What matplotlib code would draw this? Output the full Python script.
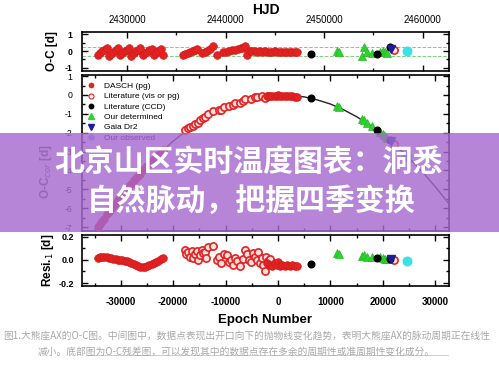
import matplotlib.pyplot as plt
from matplotlib.lines import Line2D
from matplotlib.patches import Rectangle
from matplotlib.ticker import MultipleLocator, FormatStrFormatter

plt.rcParams['font.family'] = ['Liberation Sans', 'DejaVu Sans']
plt.rcParams['axes.unicode_minus'] = False

# linear ephemeris for the HJD axis of the top panel
T0 = 2445310
PERIOD = 0.532
EPOCH_LIM = (-37400, 32630)

# DASCH (pg), first block
dasch1_epoch = [-34340, -33960, -33580, -33200, -32630, -32250, -31860, -31480, -30910, -30530,
                -30150, -29760, -29190, -28810, -28430, -28050, -27480, -27090, -26710, -26330,
                -25760, -25380, -24990, -24610, -24040, -23660, -23280, -22900, -22320, -21940]
dasch1_oc = [-0.26, -0.14, -0.02, 0.08, 0.17, -0.27, -0.15, -0.03, 0.07, 0.18,
             -0.26, -0.13, -0.01, 0.09, 0.17, -0.27, -0.14, -0.02, 0.08, 0.16,
             -0.25, -0.13, -0.03, 0.07, 0.15, -0.24, -0.12, 0.0, 0.1, -0.26]
dasch1_cor = [-7.00, -6.85, -6.70, -6.55, -6.33, -6.19, -6.04, -5.90, -5.70, -5.56,
              -5.43, -5.29, -5.10, -4.97, -4.84, -4.71, -4.53, -4.41, -4.29, -4.17,
              -4.00, -3.88, -3.77, -3.66, -3.49, -3.39, -3.28, -3.18, -3.03, -2.93]
dasch1_res = [0.021, 0.024, 0.026, 0.026, 0.024, 0.02, 0.015, 0.01, 0.006, 0.004,
              0.001, -0.003, -0.006, -0.01, -0.016, -0.025, -0.036, -0.045, -0.052, -0.057,
              -0.06, -0.058, -0.054, -0.047, -0.037, -0.027, -0.017, -0.007, 0.008, 0.017]

# second block as seen in the top panel
top_red_epoch = [-18130, -17740, -17170, -16790, -16220, -15840, -15450, -14500, -13930, -13550,
                 -12970, -12400, -11640, -10490, -9920, -9350, -8780, -8200, -7630, -7060,
                 -6680, -6300, -5910, -5340, -4960, -4390, -4010, -3430, -3050, -2480,
                 -2100, -1530, -1140, -570, -190, 380, 760, 1340, 1720, 2290,
                 2670, 3240, 3630]
top_red_oc = [-0.22, -0.16, -0.1, -0.04, 0.03, 0.09, 0.14, -0.12, -0.04, 0.03,
              0.1, 0.3, -0.22, -0.08, -0.04, 0.0, 0.04, 0.08, 0.12, 0.16,
              0.2, 0.28, -0.22, 0.0, -0.02, 0.01, -0.03, -0.01, -0.04, -0.02,
              -0.05, -0.03, -0.04, -0.02, -0.05, -0.04, -0.06, -0.03, -0.05, -0.04,
              -0.06, -0.05, -0.05]

# Literature (vis or pg)
lit_epoch = [-17740, -17550, -17170, -16790, -16410, -16220, -15840, -15450, -15260, -14880,
             -14500, -14310, -13930, -13740, -13360, -12400, -11640, -11260, -10880, -10300,
             -9730, -9350, -8970, -8590, -8200, -7820, -7250, -6680, -6300, -5910,
             -5530, -5150, -4770, -4390, -4010, -3820, -3430, -3050, -2860, -2480,
             -2290, -1910, -1530]
lit_res = [0.09, 0.05, 0.07, 0.03, 0.08, 0.02, 0.05, 0.08, 0.0, 0.04,
           0.09, 0.06, 0.07, 0.02, 0.11, 0.12, 0.0, 0.03, -0.03, 0.05,
           0.04, -0.02, 0.0, -0.04, 0.02, -0.01, -0.05, 0.01, 0.09, 0.05,
           0.0, -0.02, 0.06, 0.03, 0.0, 0.07, -0.03, 0.02, -0.04, -0.1,
           0.03, -0.01, 0.01]
lit_cor_epoch = [-17740, -17170, -16790, -16220, -15840, -15260, -14880, -14310, -13930, -13360,
                 -12400, -11260, -10880, -10300, -9350, -8590, -8200, -7250, -6680, -6300,
                 -5150, -4390, -4010, -3050, -2480, -1910]
lit_cor = [-1.85, -1.76, -1.72, -1.62, -1.52, -1.46, -1.35, -1.23, -1.16, -1.02,
           -0.86, -0.79, -0.80, -0.64, -0.60, -0.54, -0.44, -0.41, -0.30, -0.19,
           -0.22, -0.12, -0.13, -0.06, -0.16, -0.05]

# DASCH (pg), second block
dasch2_epoch = [-2100, -1530, -1140, -570, -190, 0, 380, 760, 1340, 1720, 2290, 2670, 3240, 3630]
dasch2_res = [-0.03, -0.04, -0.05, -0.03, -0.04, -0.02, -0.05, -0.04, -0.05, -0.04,
              -0.05, -0.04, -0.05, -0.05]
dasch2_cor = [-0.08, -0.07, -0.07, -0.04, -0.045, -0.02, -0.05, -0.04, -0.05, -0.045,
              -0.06, -0.06, -0.085, -0.10]

# Literature (CCD)
ccd_epoch = [6296, 18890, 21370]
ccd_oc = [-0.2, -0.18, 0.22]
ccd_cor = [-0.17, -1.87, -2.41]
ccd_res = [-0.035, 0.02, 0.01]

# Our determined
det_epoch = [11260, 11640, 16030, 16410, 16980, 17940, 19460, 20030, 20420, 20800]
det_oc = [0.0, -0.04, -0.27, 0.25, -0.06, -0.1, -0.04, 0.0, -0.06, -0.12]
det_cor = [-0.57, -0.62, -1.29, -1.35, -1.46, -1.65, -1.97, -2.09, -2.19, -2.28]
det_res = [0.058, 0.05, 0.035, 0.04, 0.03, 0.03, 0.025, 0.02, 0.012, 0.006]

# Gaia Dr2 and one late literature point next to it
gaia_epoch = [21560]
gaia_oc = [0.15]
gaia_cor = [-2.46]
gaia_res = [0.01]
lit_late_epoch = [22130]
lit_late_oc = [0.08]
lit_late_cor = [-2.59]
lit_late_res = [0.0]

# Our observed
obs_epoch = [24610]
obs_oc = [-0.02]
obs_cor = [-3.23]
obs_res = [-0.01]

# quadratic fit drawn in the middle panel
fit_epoch = [-37500, -35000, -32500, -30000, -27500, -25000, -22500, -20000, -17500, -15000,
             -12500, -10000, -7500, -5000, -2500, 0, 2500, 5000, 7500, 10000,
             12500, 15000, 17500, 20000, 22500, 25000, 27500, 30000, 32500, 35000]
fit_cor = [-8.31, -7.26, -6.28, -5.37, -4.54, -3.77, -3.07, -2.45, -1.89, -1.41,
           -1.00, -0.66, -0.39, -0.19, -0.06, -0.003, -0.02, -0.10, -0.26, -0.48,
           -0.78, -1.15, -1.59, -2.10, -2.68, -3.34, -4.06, -4.86, -5.72, -6.66]

legend_labels = ['DASCH (pg)', 'Literature (vis or pg)', 'Literature (CCD)',
                 'Our determined', 'Gaia Dr2', 'Our observed']

RED = '#e32222'
RED_EDGE = '#d01a1a'
PINK = '#fbe0e0'
GREEN = '#2fd22f'
BLUE = '#1c1c9c'
CYAN = '#3ee0e8'
MS = 5.6


def hjd(epochs):
    return [T0 + PERIOD * e for e in epochs]


def style(ax, bold=True):
    ax.tick_params(which='both', direction='in', top=True, right=True, width=1, labelsize=7)
    ax.tick_params(which='major', length=4)
    ax.tick_params(which='minor', length=2)
    for s in ax.spines.values():
        s.set_linewidth(1.2)
    if bold:
        for lab in ax.get_xticklabels() + ax.get_yticklabels():
            lab.set_fontweight('bold')


def draw(ax, xf, series):
    # series: (epochs, values, kind)
    for ep, val, kind in series:
        x = xf(ep)
        if kind == 'dasch':
            ax.plot(x, val, 'o', color=RED, mec=RED_EDGE, mew=0.4, ms=MS, zorder=3)
        elif kind == 'lit':
            ax.plot(x, val, 'o', mfc=PINK, mec=RED, mew=1.2, ms=MS - 0.4, zorder=3)
        elif kind == 'ccd':
            ax.plot(x, val, 'o', color='black', ms=MS - 0.8, zorder=5)
        elif kind == 'det':
            ax.plot(x, val, '^', color=GREEN, mec='#22bb22', mew=0.5, ms=MS + 0.8, zorder=4)
        elif kind == 'gaia':
            ax.plot(x, val, 'v', color=BLUE, ms=MS, zorder=5)
        elif kind == 'obs':
            ax.plot(x, val, 'o', color=CYAN, ms=MS + 0.6, zorder=4)


fig = plt.figure(figsize=(4.99, 3.67), dpi=100)
ax1 = fig.add_axes([0.1643, 0.8065, 0.7355, 0.1063])
ax2 = fig.add_axes([0.1643, 0.3706, 0.7355, 0.4251])
ax3 = fig.add_axes([0.1643, 0.2207, 0.7355, 0.1390])

# top panel: O-C against HJD
ax1.axhline(0.27, color='#7fcf7f', ls='--', lw=0.7, zorder=1)
ax1.axhline(-0.27, color='#7fcf7f', ls='--', lw=0.7, zorder=1)
draw(ax1, hjd, [(dasch1_epoch, dasch1_oc, 'dasch'), (top_red_epoch, top_red_oc, 'dasch'),
                (det_epoch, det_oc, 'det'), (ccd_epoch, ccd_oc, 'ccd'),
                (gaia_epoch, gaia_oc, 'gaia'), (lit_late_epoch, lit_late_oc, 'lit'),
                (obs_epoch, obs_oc, 'obs')])
ax1.set_xlim(T0 + PERIOD * EPOCH_LIM[0], T0 + PERIOD * EPOCH_LIM[1])
ax1.set_ylim(-1.2, 1.14)
ax1.xaxis.set_major_locator(MultipleLocator(10000))
ax1.xaxis.set_minor_locator(MultipleLocator(5000))
ax1.xaxis.set_major_formatter(FormatStrFormatter('%d'))
ax1.yaxis.set_major_locator(MultipleLocator(1))
ax1.yaxis.set_minor_locator(MultipleLocator(0.5))
ax1.xaxis.set_label_position('top')
ax1.set_xlabel('HJD', fontsize=10, fontweight='bold', labelpad=1)
ax1.set_ylabel('O-C [d]', fontsize=8.5, fontweight='bold')
ax1.yaxis.set_label_coords(-0.064, 0.5)
style(ax1)
ax1.tick_params(axis='x', labeltop=True, labelbottom=False, pad=5)
ax1.tick_params(axis='y', pad=7, labelsize=6.3)

# middle panel: corrected O-C with the parabola
same = lambda e: e
ax2.plot(fit_epoch, fit_cor, color='#222222', lw=1.0, zorder=2)
draw(ax2, same, [(dasch1_epoch, dasch1_cor, 'dasch'), (lit_cor_epoch, lit_cor, 'lit'),
                 (dasch2_epoch, dasch2_cor, 'dasch'), (det_epoch, det_cor, 'det'),
                 (ccd_epoch, ccd_cor, 'ccd'), (gaia_epoch, gaia_cor, 'gaia'),
                 (lit_late_epoch, lit_late_cor, 'lit'), (obs_epoch, obs_cor, 'obs')])
ax2.set_xlim(*EPOCH_LIM)
ax2.set_ylim(-7.21, 1.06)
ax2.xaxis.set_major_locator(MultipleLocator(10000))
ax2.xaxis.set_minor_locator(MultipleLocator(5000))
ax2.yaxis.set_major_locator(MultipleLocator(1))
ax2.yaxis.set_minor_locator(MultipleLocator(0.5))
ax2.set_ylabel('O-C$_{cor}$ [d]', fontsize=8.5, fontweight='bold', color='#555555')
ax2.yaxis.set_label_coords(-0.075, 0.38)
style(ax2, bold=False)
ax2.tick_params(axis='x', labelbottom=False)
ax2.tick_params(axis='y', pad=7, labelsize=6.3)

handles = [
    Line2D([], [], ls='', marker='o', color=RED, mec=RED_EDGE, mew=0.5, ms=3.6),
    Line2D([], [], ls='', marker='o', mfc='white', mec=RED, mew=0.8, ms=3.6),
    Line2D([], [], ls='', marker='o', color='black', ms=3.2),
    Line2D([], [], ls='', marker='^', color=GREEN, ms=3.8),
    Line2D([], [], ls='', marker='v', color=BLUE, ms=3.8),
    Line2D([], [], ls='', marker='o', color='#7f9fff', ms=3.6),
]
ax2.legend(handles, legend_labels, loc='upper left', bbox_to_anchor=(0.0, 0.985),
           frameon=False, fontsize=6, handlelength=1.0, handletextpad=1.0,
           labelspacing=0.3, borderaxespad=0.2)

# bottom panel: residuals
draw(ax3, same, [(dasch1_epoch, dasch1_res, 'dasch'), (lit_epoch, lit_res, 'lit'),
                 (dasch2_epoch, dasch2_res, 'dasch'), (det_epoch, det_res, 'det'),
                 (ccd_epoch, ccd_res, 'ccd'), (gaia_epoch, gaia_res, 'gaia'),
                 (lit_late_epoch, lit_late_res, 'lit'), (obs_epoch, obs_res, 'obs')])
ax3.set_xlim(*EPOCH_LIM)
ax3.set_ylim(-0.226, 0.217)
ax3.xaxis.set_major_locator(MultipleLocator(10000))
ax3.xaxis.set_minor_locator(MultipleLocator(5000))
ax3.yaxis.set_major_locator(MultipleLocator(0.2))
ax3.yaxis.set_minor_locator(MultipleLocator(0.1))
ax3.yaxis.set_major_formatter(FormatStrFormatter('%.1f'))
ax3.set_xlabel('Epoch Number', fontsize=9.5, fontweight='bold', labelpad=5)
ax3.set_ylabel('Resi.$_1$ [d]', fontsize=8.5, fontweight='bold')
ax3.yaxis.set_label_coords(-0.07, 0.5)
style(ax3)
ax3.tick_params(axis='x', pad=8)
ax3.tick_params(axis='y', pad=6, labelsize=6.5)

# purple title banner laid over the figure
fig.add_artist(Rectangle((0, 0.368), 1, 0.27, transform=fig.transFigure,
                         facecolor='#a66ad0', edgecolor='none', alpha=0.82, zorder=10))
cjk = ['Noto Sans CJK SC', 'DejaVu Sans']
fig.text(0.499, 0.5586, '北京山区实时温度图表：洞悉', ha='center', va='center',
         fontsize=21.5, fontweight='bold', color='white', family=cjk, zorder=11)
fig.text(0.504, 0.452, '自然脉动，把握四季变换', ha='center', va='center',
         fontsize=21.5, fontweight='bold', color='white', family=cjk, zorder=11)

# caption
fig.text(0.495, 0.0845, '图1.大熊座AX的O-C图。中间图中，数据点表现出开口向下的抛物线变化趋势，表明大熊座AX的脉动周期正在线性',
         ha='center', va='center', fontsize=7, color='#a8a8a8', family=cjk)
fig.text(0.474, 0.041, '减小。底部图为O-C残差图，可以发现其中的数据点存在多余的周期性或准周期性变化成分。',
         ha='center', va='center', fontsize=7, color='#a8a8a8', family=cjk)
fig.add_artist(Line2D([0.174, 0.898], [0.0327, 0.0327], transform=fig.transFigure,
                      color='#c8c8c8', lw=0.6))

fig.savefig('out.png', dpi=100)
